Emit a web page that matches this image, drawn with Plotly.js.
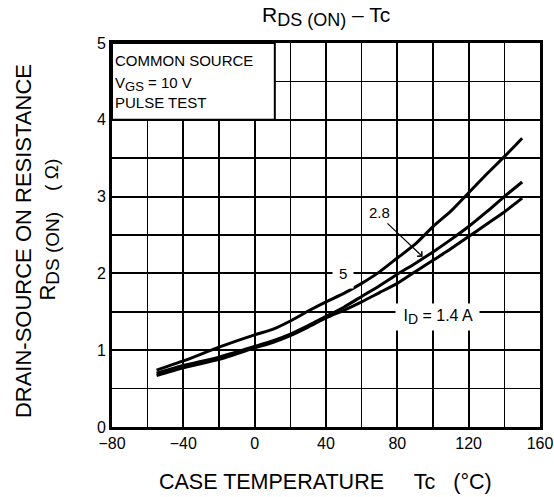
<!DOCTYPE html>
<html><head><meta charset="utf-8">
<script src="https://cdn.plot.ly/plotly-3.0.1.min.js"></script>
<style>html,body{margin:0;padding:0;background:#fff}#c{width:554px;height:497px}</style>
</head><body><div id="c"></div>
<script>
const tc = [-55,-40,-20,0,10,20,30,40,50,60,70,80,90,100,110,120,130,140,150];
const rds_5A = [0.74,0.86,1.04,1.20,1.27,1.38,1.51,1.63,1.74,1.87,2.02,2.20,2.38,2.61,2.81,3.05,3.29,3.52,3.76];
const rds_2_8A = [0.70,0.80,0.91,1.05,1.12,1.21,1.32,1.44,1.56,1.70,1.84,1.99,2.13,2.28,2.44,2.61,2.80,3.00,3.19];
const rds_1_4A = [0.67,0.77,0.88,1.03,1.10,1.19,1.30,1.42,1.52,1.63,1.75,1.87,2.02,2.17,2.32,2.48,2.64,2.80,2.98];
const xTicks = [-80,-40,0,40,80,120,160];
const xTickText = ['\u221280','\u221240','0','40','80','120','160'];
const yTicks = [0,1,2,3,4,5];
const conditions = ['COMMON SOURCE','V<sub><span style="font-size:13px">GS</span></sub> = 10 V','PULSE TEST'];

const FAM = 'Liberation Sans, Arial, sans-serif';
const font = {family:FAM, color:'#000', size:16};
const line = {color:'#000', width:3, shape:'spline', smoothing:0.6};
const traces = [
  {x:tc, y:rds_5A, mode:'lines', line:line, name:'5'},
  {x:tc, y:rds_2_8A, mode:'lines', line:line, name:'2.8'},
  {x:tc, y:rds_1_4A, mode:'lines', line:line, name:'1.4'}
];
const condY = [4.766, 4.46, 4.225];
const ann = [];
conditions.forEach((t,i)=>ann.push({xref:'x', yref:'y', x:-79.3, y:condY[i], xanchor:'left', yanchor:'middle', align:'left', showarrow:false, text:t, font:{size:15}}));
ann.push(
  {xref:'x', yref:'y', x:49.4, y:2.0, text:'5', showarrow:false, bgcolor:'#fff', font:{size:15}, borderpad:6},
  {xref:'x', yref:'y', x:69.9, y:2.793, text:'2.8', showarrow:false, bgcolor:'#fff', font:{size:15}, borderpad:4},
  {xref:'x', yref:'y', x:94.2, y:2.217, ax:73.6, ay:2.669, axref:'x', ayref:'y', text:'', showarrow:true, arrowhead:4, arrowsize:1.1, arrowwidth:1.2, arrowcolor:'#000'},
  {xref:'x', yref:'y', x:102.5, y:1.435, text:' I<sub><span style="font-size:14px">D</span></sub> = 1.4 A ', showarrow:false, bgcolor:'#fff', font:{size:16}, borderpad:3},
  {xref:'paper', yref:'paper', x:0.5, y:1.068, xanchor:'center', yanchor:'middle', showarrow:false,
   text:'R<sub><span style="font-size:18px">DS (ON)</span></sub> \u2013 Tc', font:{size:21}},
  {xref:'paper', yref:'paper', x:0.499, y:-0.143, xanchor:'center', yanchor:'middle', showarrow:false,
   text:'CASE TEMPERATURE\u00a0\u00a0\u00a0\u00a0\u00a0Tc\u00a0\u00a0\u00a0(\u00b0C)', font:{size:21.5}},
  {xref:'paper', yref:'paper', x:-0.208, y:0.484, xanchor:'center', yanchor:'middle', textangle:-90, showarrow:false,
   text:'DRAIN-SOURCE ON RESISTANCE', font:{size:22}},
  {xref:'paper', yref:'paper', x:-0.147, y:0.444, xanchor:'center', yanchor:'middle', textangle:-90, showarrow:false,
   text:'R<sub><span style="font-size:19px">DS (ON)</span></sub>', font:{size:22}},
  {xref:'paper', yref:'paper', x:-0.143, y:0.656, xanchor:'center', yanchor:'middle', textangle:-90, showarrow:false,
   text:'(\u00a0\u03a9)', font:{size:19}}
);
const layout = {
  width:554, height:497,
  margin:{l:112, r:14, t:43, b:70},
  paper_bgcolor:'#fff', plot_bgcolor:'#fff',
  showlegend:false,
  font:font,
  xaxis:{range:[-80,160], tickvals:xTicks, ticktext:xTickText, ticks:'', showline:true, mirror:true, linecolor:'#000', linewidth:3,
    showgrid:true, gridcolor:'#000', gridwidth:2, zeroline:false,
    minor:{dtick:20, tick0:-80, showgrid:true, gridcolor:'#000', gridwidth:1.5},
    tickfont:{size:16}},
  yaxis:{range:[0,5], tickvals:yTicks, ticks:'', showline:true, mirror:true, linecolor:'#000', linewidth:3,
    showgrid:true, gridcolor:'#000', gridwidth:2, zeroline:false,
    minor:{dtick:0.5, tick0:0, showgrid:true, gridcolor:'#000', gridwidth:1.5},
    tickfont:{size:16}},
  shapes:[
    {type:'rect', xref:'x', yref:'y', x0:-80, x1:11.3, y0:4, y1:5, fillcolor:'#fff', line:{color:'#000', width:2}, layer:'between'}
  ],
  annotations:ann
};
Plotly.newPlot('c', traces, layout, {displayModeBar:false, staticPlot:true});
</script></body></html>
